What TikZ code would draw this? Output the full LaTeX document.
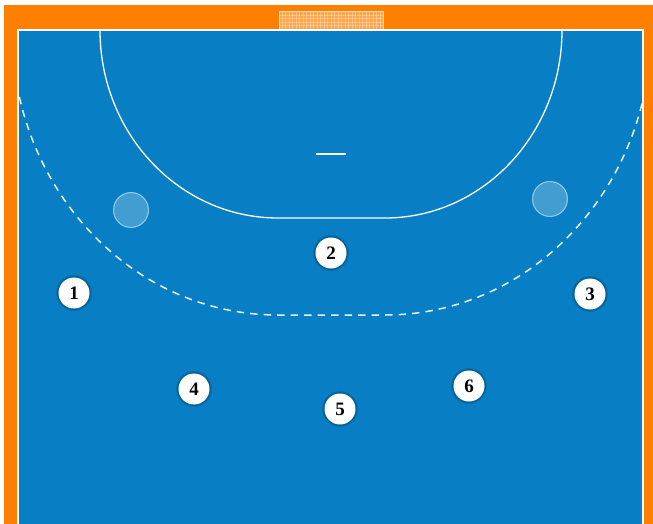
\documentclass[tikz,border=0pt]{standalone}
\usepackage{fontspec}
\setmainfont{Liberation Serif}
\definecolor{courtblue}{RGB}{8,127,196}
\definecolor{frameorange}{RGB}{255,128,0}
\definecolor{goalorange}{RGB}{255,166,77}
\tikzset{
  player/.style={circle, fill=white, minimum size=31pt, inner sep=0pt,
    font=\fontsize{19}{19}\selectfont\bfseries},
  shadowring/.style={fill=black, fill opacity=0.12},
  softspot/.style={fill=white, fill opacity=0.13, draw=white, draw opacity=0.3, line width=1pt},
  courtline/.style={white, line width=1.3pt},
  zoneline/.style={white, opacity=0.9, line width=1.5pt, dash pattern=on 7.5pt off 6pt}
}
\begin{document}
\begin{tikzpicture}[x=1pt,y=-1pt]
\useasboundingbox (0,0) rectangle (653,524);
\fill[white] (0,0) rectangle (653,524);
\fill[frameorange] (4,5) rectangle (653,524);
\fill[courtblue] (18,30) rectangle (643,524);
% goal
\fill[goalorange] (279,12) rectangle (383,30);
\begin{scope}
\clip (279,12) rectangle (383,30);
\foreach \gx in {282,285.5,...,383} {\draw[white, opacity=0.3, line width=0.5pt] (\gx,12) -- (\gx,30);}
\foreach \gy in {15,18.5,...,30} {\draw[white, opacity=0.3, line width=0.5pt] (279,\gy) -- (383,\gy);}
\end{scope}
\draw[white, opacity=0.7, line width=1pt] (279,30) -- (279,12) -- (383,12) -- (383,30);
% court outline
\draw[courtline] (18,524) -- (18,30) -- (643,30) -- (643,524);
% goal area line (6 m)
\draw[courtline] (100,30) arc[start angle=180, end angle=270, x radius=178pt, y radius=188pt]
  -- (385,218) arc[start angle=270, end angle=360, x radius=177pt, y radius=188pt];
% free throw line (9 m)
\begin{scope}
\clip (19,31) rectangle (642,524);
\draw[zoneline] (12,30) arc[start angle=180, end angle=270, x radius=266pt, y radius=285pt]
  -- (385,315) arc[start angle=270, end angle=360, x radius=266pt, y radius=285pt];
\end{scope}
% goalkeeper restraining line
\draw[courtline] (316,154) -- (346,154);
% soft spots
\fill[softspot] (131,210) circle[radius=17.5];
\draw[softspot] (131,210) circle[radius=17.5];
\fill[softspot] (550,199) circle[radius=17.5];
\draw[softspot] (550,199) circle[radius=17.5];
% players
\foreach \n/\px/\py in {1/74/293, 2/331/253, 3/590/294, 4/194/389, 5/340/409, 6/469/386} {
  \fill[shadowring] (\px,\py) circle[radius=18];
  \fill[shadowring] (\px,\py) circle[radius=17];
  \node[player] (p\n) at (\px,\py) {\n};
}
\end{tikzpicture}
\end{document}
